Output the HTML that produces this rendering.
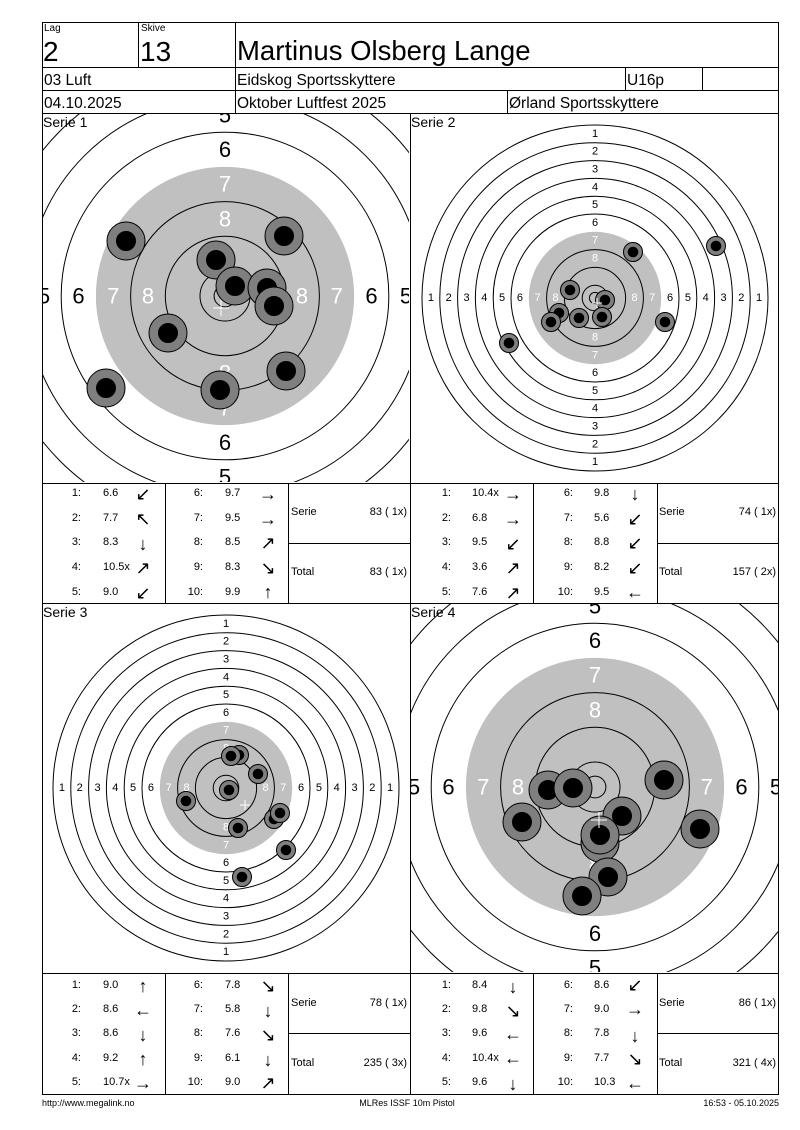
<!DOCTYPE html>
<html><head><meta charset="utf-8"><style>
html,body{margin:0;padding:0;background:#fff}
svg{display:block}
text{font-family:"Liberation Sans",Arial,sans-serif}
.a{font-family:"DejaVu Sans",sans-serif;font-size:18px}
.t{font-size:11px}
.s{font-size:11px;text-anchor:middle;dominant-baseline:central}
.b{font-size:22px;text-anchor:middle;dominant-baseline:central}
.w{fill:#fff}
</style></head><body>
<svg width="800" height="1130" viewBox="0 0 800 1130" xmlns="http://www.w3.org/2000/svg">
<defs>
<clipPath id="c1"><rect x="43" y="114" width="366" height="368"/></clipPath>
<clipPath id="c4"><rect x="411" y="604" width="367" height="368"/></clipPath>
</defs>

<g clip-path="url(#c1)">
<g transform="translate(225,296)" fill="none" stroke="#000" stroke-width="1">
<circle r="268"/><circle r="233.3"/><circle r="198.6"/><circle r="163.8"/>
<circle r="129.1" fill="#c0c0c0" stroke="none"/>
<circle r="94.4"/><circle r="59.7"/><circle r="25"/><circle r="10.9"/>
</g>
<g transform="translate(225,296)">
<text class="b" x="0" y="-181">5</text><text class="b" x="0" y="181">5</text><text class="b" x="-181" y="0">5</text><text class="b" x="181" y="0">5</text>
<text class="b" x="0" y="-146.5">6</text><text class="b" x="0" y="146.5">6</text><text class="b" x="-146.5" y="0">6</text><text class="b" x="146.5" y="0">6</text>
<text class="b w" x="0" y="-111.8">7</text><text class="b w" x="0" y="111.8">7</text><text class="b w" x="-111.8" y="0">7</text><text class="b w" x="111.8" y="0">7</text>
<text class="b w" x="0" y="-77">8</text><text class="b w" x="0" y="77">8</text><text class="b w" x="-77" y="0">8</text><text class="b w" x="77" y="0">8</text>
</g>
<g stroke="#000" stroke-width="1">
<circle cx="126" cy="241" r="19" fill="#7f7f7f"/><circle cx="126" cy="241" r="9.5" fill="#000"/>
<circle cx="284" cy="236" r="19" fill="#7f7f7f"/><circle cx="284" cy="236" r="9.5" fill="#000"/>
<circle cx="216" cy="260" r="19" fill="#7f7f7f"/><circle cx="216" cy="260" r="9.5" fill="#000"/>
<circle cx="235" cy="286" r="19" fill="#7f7f7f"/><circle cx="235" cy="286" r="9.5" fill="#000"/>
<circle cx="267" cy="288" r="19" fill="#7f7f7f"/><circle cx="267" cy="288" r="9.5" fill="#000"/>
<circle cx="274" cy="306" r="19" fill="#7f7f7f"/><circle cx="274" cy="306" r="9.5" fill="#000"/>
<circle cx="168" cy="333" r="19" fill="#7f7f7f"/><circle cx="168" cy="333" r="9.5" fill="#000"/>
<circle cx="286" cy="371" r="19" fill="#7f7f7f"/><circle cx="286" cy="371" r="9.5" fill="#000"/>
<circle cx="220" cy="390" r="19" fill="#7f7f7f"/><circle cx="220" cy="390" r="9.5" fill="#000"/>
<circle cx="106" cy="388" r="19" fill="#7f7f7f"/><circle cx="106" cy="388" r="9.5" fill="#000"/>
</g>
<path d="M221 300v16M213 308h16" stroke="#fff" stroke-width="1"/>
</g>

<g clip-path="url(#c4)">
<g transform="translate(595,787)" fill="none" stroke="#000" stroke-width="1">
<circle r="268"/><circle r="233.3"/><circle r="198.6"/><circle r="163.8"/>
<circle r="129.1" fill="#c0c0c0" stroke="none"/>
<circle r="94.4"/><circle r="59.7"/><circle r="25"/><circle r="10.9"/>
</g>
<g transform="translate(595,787)">
<text class="b" x="0" y="-181">5</text><text class="b" x="0" y="181">5</text><text class="b" x="-181" y="0">5</text><text class="b" x="181" y="0">5</text>
<text class="b" x="0" y="-146.5">6</text><text class="b" x="0" y="146.5">6</text><text class="b" x="-146.5" y="0">6</text><text class="b" x="146.5" y="0">6</text>
<text class="b w" x="0" y="-111.8">7</text><text class="b w" x="0" y="111.8">7</text><text class="b w" x="-111.8" y="0">7</text><text class="b w" x="111.8" y="0">7</text>
<text class="b w" x="0" y="-77">8</text><text class="b w" x="0" y="77">8</text><text class="b w" x="-77" y="0">8</text><text class="b w" x="77" y="0">8</text>
</g>
<g stroke="#000" stroke-width="1">
<circle cx="548" cy="790" r="19" fill="#7f7f7f"/><circle cx="548" cy="790" r="9.5" fill="#000"/>
<circle cx="573" cy="788" r="19" fill="#7f7f7f"/><circle cx="573" cy="788" r="9.5" fill="#000"/>
<circle cx="664" cy="780" r="19" fill="#7f7f7f"/><circle cx="664" cy="780" r="9.5" fill="#000"/>
<circle cx="622" cy="816" r="19" fill="#7f7f7f"/><circle cx="622" cy="816" r="9.5" fill="#000"/>
<circle cx="522" cy="822" r="19" fill="#7f7f7f"/><circle cx="522" cy="822" r="9.5" fill="#000"/>
<circle cx="600" cy="843" r="19" fill="#7f7f7f"/>
<circle cx="600" cy="835" r="19" fill="#7f7f7f"/><circle cx="600" cy="835" r="9.5" fill="#000"/>
<circle cx="700" cy="829" r="19" fill="#7f7f7f"/><circle cx="700" cy="829" r="9.5" fill="#000"/>
<circle cx="608" cy="877" r="19" fill="#7f7f7f"/><circle cx="608" cy="877" r="9.5" fill="#000"/>
<circle cx="582" cy="896" r="19" fill="#7f7f7f"/><circle cx="582" cy="896" r="9.5" fill="#000"/>
</g>
<path d="M599 812v16M591 820h16" stroke="#fff" stroke-width="1"/>
</g>

<g transform="translate(595,298)">
<g fill="none" stroke="#000" stroke-width="1">
<circle r="173"/><circle r="155.2"/><circle r="137.4"/><circle r="119.6"/><circle r="101.8"/><circle r="84"/>
<circle r="66.2" fill="#c0c0c0" stroke="none"/>
<circle r="48.4"/><circle r="30.6"/><circle r="12.8"/><circle r="5.6"/>
</g>
<text class="s" y="-164.1">1</text><text class="s" y="164.1">1</text><text class="s" x="-164.1">1</text><text class="s" x="164.1">1</text>
<text class="s" y="-146.3">2</text><text class="s" y="146.3">2</text><text class="s" x="-146.3">2</text><text class="s" x="146.3">2</text>
<text class="s" y="-128.5">3</text><text class="s" y="128.5">3</text><text class="s" x="-128.5">3</text><text class="s" x="128.5">3</text>
<text class="s" y="-110.7">4</text><text class="s" y="110.7">4</text><text class="s" x="-110.7">4</text><text class="s" x="110.7">4</text>
<text class="s" y="-92.9">5</text><text class="s" y="92.9">5</text><text class="s" x="-92.9">5</text><text class="s" x="92.9">5</text>
<text class="s" y="-75.1">6</text><text class="s" y="75.1">6</text><text class="s" x="-75.1">6</text><text class="s" x="75.1">6</text>
<text class="s w" y="-57.3">7</text><text class="s w" y="57.3">7</text><text class="s w" x="-57.3">7</text><text class="s w" x="57.3">7</text>
<text class="s w" y="-39.5">8</text><text class="s w" y="39.5">8</text><text class="s w" x="-39.5">8</text><text class="s w" x="39.5">8</text>
</g>
<g stroke="#000" stroke-width="1">
<circle cx="633" cy="252" r="9.5" fill="#7f7f7f"/><circle cx="633" cy="252" r="4.8" fill="#000"/>
<circle cx="716" cy="246" r="9.5" fill="#7f7f7f"/><circle cx="716" cy="246" r="4.8" fill="#000"/>
<circle cx="570" cy="290" r="9.5" fill="#7f7f7f"/><circle cx="570" cy="290" r="4.8" fill="#000"/>
<circle cx="605" cy="300" r="9.5" fill="#7f7f7f"/><circle cx="605" cy="300" r="4.8" fill="#000"/>
<circle cx="559" cy="313" r="9.5" fill="#7f7f7f"/><circle cx="559" cy="313" r="4.8" fill="#000"/>
<circle cx="551" cy="322" r="9.5" fill="#7f7f7f"/><circle cx="551" cy="322" r="4.8" fill="#000"/>
<circle cx="579" cy="318" r="9.5" fill="#7f7f7f"/><circle cx="579" cy="318" r="4.8" fill="#000"/>
<circle cx="602" cy="317" r="9.5" fill="#7f7f7f"/><circle cx="602" cy="317" r="4.8" fill="#000"/>
<circle cx="665" cy="322" r="9.5" fill="#7f7f7f"/><circle cx="665" cy="322" r="4.8" fill="#000"/>
<circle cx="509" cy="343" r="9.5" fill="#7f7f7f"/><circle cx="509" cy="343" r="4.8" fill="#000"/>
</g>
<path d="M597 298v10M592 303h10" stroke="#fff" stroke-width="1"/>

<g transform="translate(226,788)">
<g fill="none" stroke="#000" stroke-width="1">
<circle r="173"/><circle r="155.2"/><circle r="137.4"/><circle r="119.6"/><circle r="101.8"/><circle r="84"/>
<circle r="66.2" fill="#c0c0c0" stroke="none"/>
<circle r="48.4"/><circle r="30.6"/><circle r="12.8"/><circle r="5.6"/>
</g>
<text class="s" y="-164.1">1</text><text class="s" y="164.1">1</text><text class="s" x="-164.1">1</text><text class="s" x="164.1">1</text>
<text class="s" y="-146.3">2</text><text class="s" y="146.3">2</text><text class="s" x="-146.3">2</text><text class="s" x="146.3">2</text>
<text class="s" y="-128.5">3</text><text class="s" y="128.5">3</text><text class="s" x="-128.5">3</text><text class="s" x="128.5">3</text>
<text class="s" y="-110.7">4</text><text class="s" y="110.7">4</text><text class="s" x="-110.7">4</text><text class="s" x="110.7">4</text>
<text class="s" y="-92.9">5</text><text class="s" y="92.9">5</text><text class="s" x="-92.9">5</text><text class="s" x="92.9">5</text>
<text class="s" y="-75.1">6</text><text class="s" y="75.1">6</text><text class="s" x="-75.1">6</text><text class="s" x="75.1">6</text>
<text class="s w" y="-57.3">7</text><text class="s w" y="57.3">7</text><text class="s w" x="-57.3">7</text><text class="s w" x="57.3">7</text>
<text class="s w" y="-39.5">8</text><text class="s w" y="39.5">8</text><text class="s w" x="-39.5">8</text><text class="s w" x="39.5">8</text>
</g>
<g stroke="#000" stroke-width="1">
<circle cx="239" cy="755" r="9.5" fill="#7f7f7f"/><circle cx="239" cy="755" r="4.8" fill="#000"/>
<circle cx="231" cy="756" r="9.5" fill="#7f7f7f"/><circle cx="231" cy="756" r="4.8" fill="#000"/>
<circle cx="258" cy="774" r="9.5" fill="#7f7f7f"/><circle cx="258" cy="774" r="4.8" fill="#000"/>
<circle cx="229" cy="790" r="9.5" fill="#7f7f7f"/><circle cx="229" cy="790" r="4.8" fill="#000"/>
<circle cx="186" cy="801" r="9.5" fill="#7f7f7f"/><circle cx="186" cy="801" r="4.8" fill="#000"/>
<circle cx="274" cy="819" r="9.5" fill="#7f7f7f"/><circle cx="274" cy="819" r="4.8" fill="#000"/>
<circle cx="280" cy="813" r="9.5" fill="#7f7f7f"/><circle cx="280" cy="813" r="4.8" fill="#000"/>
<circle cx="238" cy="828" r="9.5" fill="#7f7f7f"/><circle cx="238" cy="828" r="4.8" fill="#000"/>
<circle cx="286" cy="850" r="9.5" fill="#7f7f7f"/><circle cx="286" cy="850" r="4.8" fill="#000"/>
<circle cx="242" cy="877" r="9.5" fill="#7f7f7f"/><circle cx="242" cy="877" r="4.8" fill="#000"/>
</g>
<path d="M245 800v10M240 805h10" stroke="#fff" stroke-width="1"/>

<g stroke="#000" stroke-width="1" fill="none">
<rect x="42.5" y="22.5" width="736" height="1072"/>
<line x1="42" y1="67.5" x2="779" y2="67.5"/>
<line x1="42" y1="90.5" x2="779" y2="90.5"/>
<line x1="42" y1="113.5" x2="779" y2="113.5"/>
<line x1="138.5" y1="22" x2="138.5" y2="67"/>
<line x1="235.5" y1="22" x2="235.5" y2="113"/>
<line x1="625.5" y1="67" x2="625.5" y2="90"/>
<line x1="702.5" y1="67" x2="702.5" y2="90"/>
<line x1="507.5" y1="90" x2="507.5" y2="113"/>
<line x1="410.5" y1="113" x2="410.5" y2="1095"/>
<line x1="42" y1="483.5" x2="779" y2="483.5"/>
<line x1="42" y1="603.5" x2="779" y2="603.5"/>
<line x1="42" y1="973.5" x2="779" y2="973.5"/>
<line x1="165.5" y1="483" x2="165.5" y2="603"/><line x1="288.5" y1="483" x2="288.5" y2="603"/>
<line x1="533.5" y1="483" x2="533.5" y2="603"/><line x1="657.5" y1="483" x2="657.5" y2="603"/>
<line x1="165.5" y1="973" x2="165.5" y2="1095"/><line x1="288.5" y1="973" x2="288.5" y2="1095"/>
<line x1="533.5" y1="973" x2="533.5" y2="1095"/><line x1="657.5" y1="973" x2="657.5" y2="1095"/>
<line x1="288" y1="543.5" x2="410" y2="543.5"/><line x1="657" y1="543.5" x2="779" y2="543.5"/>
<line x1="288" y1="1033.5" x2="410" y2="1033.5"/><line x1="657" y1="1033.5" x2="779" y2="1033.5"/>
</g>

<text x="44" y="31" font-size="10">Lag</text>
<text x="141" y="31" font-size="10">Skive</text>
<text x="43" y="61" font-size="28">2</text>
<text x="140" y="61" font-size="28">13</text>
<text x="237" y="60" font-size="27.5">Martinus Olsberg Lange</text>
<text x="44" y="85" font-size="15.5">03 Luft</text>
<text x="237" y="85" font-size="15.5">Eidskog Sportsskyttere</text>
<text x="627" y="85" font-size="15.5">U16p</text>
<text x="44" y="108" font-size="15.5">04.10.2025</text>
<text x="237" y="108" font-size="15.5">Oktober Luftfest 2025</text>
<text x="509" y="108" font-size="15.5">Ørland Sportsskyttere</text>
<text x="43" y="127" font-size="14">Serie 1</text>
<text x="411" y="127" font-size="14">Serie 2</text>
<text x="43" y="617" font-size="14">Serie 3</text>
<text x="411" y="617" font-size="14">Serie 4</text>

<g class="t" dominant-baseline="central">
<g text-anchor="end"><text x="81" y="493">1:</text><text x="81" y="518">2:</text><text x="81" y="542">3:</text><text x="81" y="567">4:</text><text x="81" y="592">5:</text>
<text x="203" y="493">6:</text><text x="203" y="518">7:</text><text x="203" y="542">8:</text><text x="203" y="567">9:</text><text x="203" y="592">10:</text></g>
<text x="103" y="493">6.6</text><text x="103" y="518">7.7</text><text x="103" y="542">8.3</text><text x="103" y="567">10.5x</text><text x="103" y="592">9.0</text>
<text x="225" y="493">9.7</text><text x="225" y="518">9.5</text><text x="225" y="542">8.5</text><text x="225" y="567">8.3</text><text x="225" y="592">9.9</text>
<g class="a" text-anchor="middle"><text x="143" y="494">↙</text><text x="143" y="519">↖</text><text x="143" y="544">↓</text><text x="143" y="568">↗</text><text x="143" y="593">↙</text>
<text x="268" y="494">→</text><text x="268" y="519">→</text><text x="268" y="543">↗</text><text x="268" y="568">↘</text><text x="268" y="592">↑</text></g>
<text x="291" y="512">Serie</text><text x="407" y="512" text-anchor="end">83 ( 1x)</text>
<text x="291" y="572">Total</text><text x="407" y="572" text-anchor="end">83 ( 1x)</text>
</g>

<g class="t" dominant-baseline="central">
<g text-anchor="end"><text x="451" y="493">1:</text><text x="451" y="518">2:</text><text x="451" y="542">3:</text><text x="451" y="567">4:</text><text x="451" y="592">5:</text>
<text x="573" y="493">6:</text><text x="573" y="518">7:</text><text x="573" y="542">8:</text><text x="573" y="567">9:</text><text x="573" y="592">10:</text></g>
<text x="472" y="493">10.4x</text><text x="472" y="518">6.8</text><text x="472" y="542">9.5</text><text x="472" y="567">3.6</text><text x="472" y="592">7.6</text>
<text x="594" y="493">9.8</text><text x="594" y="518">5.6</text><text x="594" y="542">8.8</text><text x="594" y="567">8.2</text><text x="594" y="592">9.5</text>
<g class="a" text-anchor="middle"><text x="513" y="494">→</text><text x="513" y="519">→</text><text x="513" y="544">↙</text><text x="513" y="568">↗</text><text x="513" y="593">↗</text>
<text x="635" y="494">↓</text><text x="635" y="519">↙</text><text x="635" y="543">↙</text><text x="635" y="568">↙</text><text x="635" y="592">←</text></g>
<text x="659" y="512">Serie</text><text x="776" y="512" text-anchor="end">74 ( 1x)</text>
<text x="659" y="572">Total</text><text x="776" y="572" text-anchor="end">157 ( 2x)</text>
</g>

<g class="t" dominant-baseline="central">
<g text-anchor="end"><text x="81" y="985">1:</text><text x="81" y="1009">2:</text><text x="81" y="1033">3:</text><text x="81" y="1058">4:</text><text x="81" y="1082">5:</text>
<text x="203" y="985">6:</text><text x="203" y="1009">7:</text><text x="203" y="1033">8:</text><text x="203" y="1058">9:</text><text x="203" y="1082">10:</text></g>
<text x="103" y="985">9.0</text><text x="103" y="1009">8.6</text><text x="103" y="1033">8.6</text><text x="103" y="1058">9.2</text><text x="103" y="1082">10.7x</text>
<text x="225" y="985">7.8</text><text x="225" y="1009">5.8</text><text x="225" y="1033">7.6</text><text x="225" y="1058">6.1</text><text x="225" y="1082">9.0</text>
<g class="a" text-anchor="middle"><text x="143" y="986">↑</text><text x="143" y="1010">←</text><text x="143" y="1035">↓</text><text x="143" y="1059">↑</text><text x="143" y="1083">→</text>
<text x="268" y="986">↘</text><text x="268" y="1011">↓</text><text x="268" y="1035">↘</text><text x="268" y="1060">↓</text><text x="268" y="1083">↗</text></g>
<text x="291" y="1003">Serie</text><text x="407" y="1003" text-anchor="end">78 ( 1x)</text>
<text x="291" y="1063">Total</text><text x="407" y="1063" text-anchor="end">235 ( 3x)</text>
</g>

<g class="t" dominant-baseline="central">
<g text-anchor="end"><text x="451" y="985">1:</text><text x="451" y="1009">2:</text><text x="451" y="1033">3:</text><text x="451" y="1058">4:</text><text x="451" y="1082">5:</text>
<text x="573" y="985">6:</text><text x="573" y="1009">7:</text><text x="573" y="1033">8:</text><text x="573" y="1058">9:</text><text x="573" y="1082">10:</text></g>
<text x="472" y="985">8.4</text><text x="472" y="1009">9.8</text><text x="472" y="1033">9.6</text><text x="472" y="1058">10.4x</text><text x="472" y="1082">9.6</text>
<text x="594" y="985">8.6</text><text x="594" y="1009">9.0</text><text x="594" y="1033">7.8</text><text x="594" y="1058">7.7</text><text x="594" y="1082">10.3</text>
<g class="a" text-anchor="middle"><text x="513" y="987">↓</text><text x="513" y="1011">↘</text><text x="513" y="1034">←</text><text x="513" y="1058">←</text><text x="513" y="1084">↓</text>
<text x="635" y="985">↙</text><text x="635" y="1009">→</text><text x="635" y="1036">↓</text><text x="635" y="1059">↘</text><text x="635" y="1083">←</text></g>
<text x="659" y="1003">Serie</text><text x="776" y="1003" text-anchor="end">86 ( 1x)</text>
<text x="659" y="1063">Total</text><text x="776" y="1063" text-anchor="end">321 ( 4x)</text>
</g>

<text x="42" y="1106" font-size="9">http://www.megalink.no</text>
<text x="407" y="1106" font-size="9" text-anchor="middle">MLRes ISSF 10m Pistol</text>
<text x="779" y="1106" font-size="9" text-anchor="end">16:53 - 05.10.2025</text>
</svg>
</body></html>
